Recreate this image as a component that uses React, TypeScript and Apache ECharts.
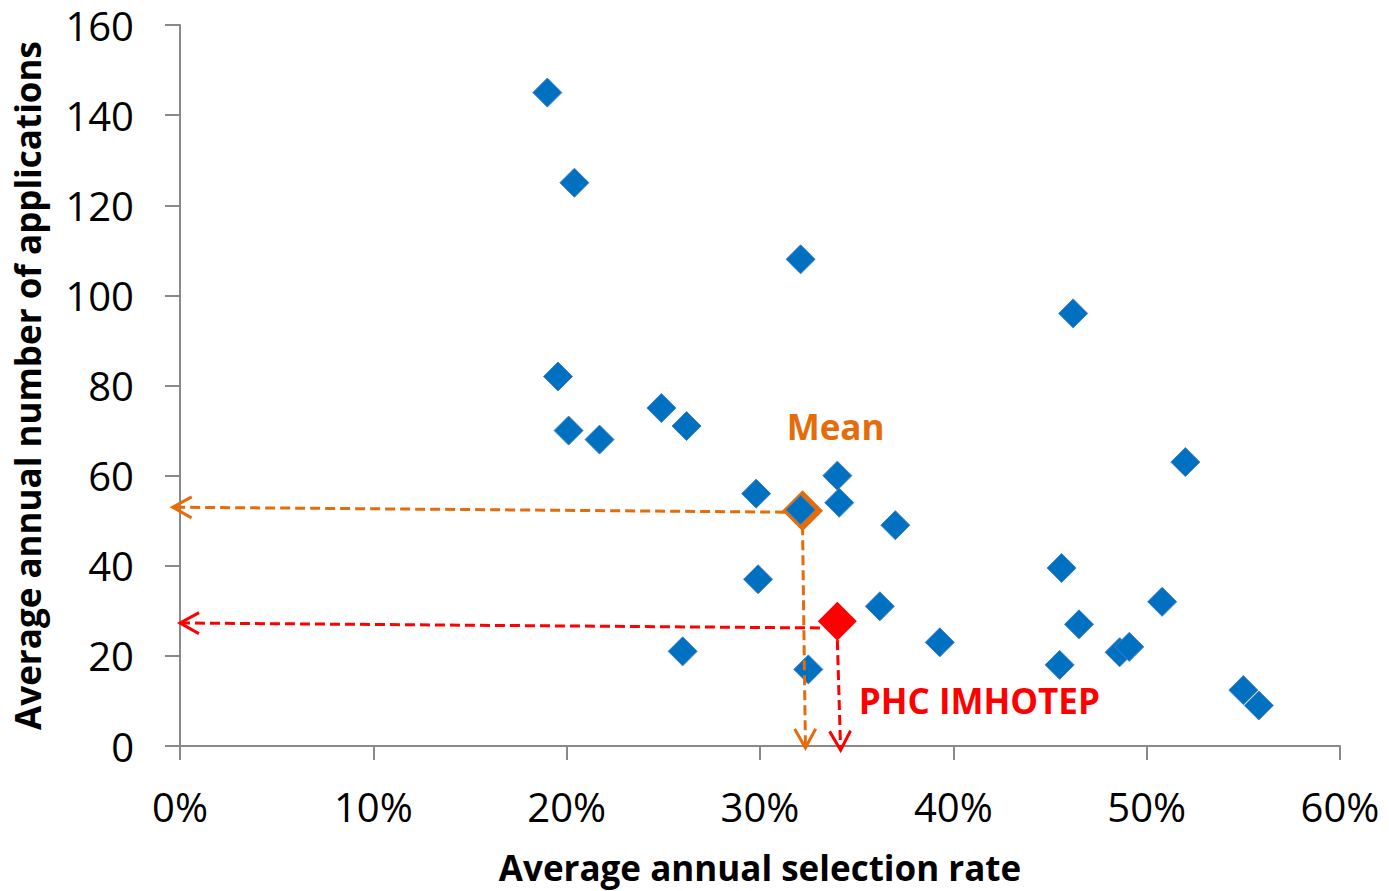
import React, { useEffect, useRef } from "react";
import * as echarts from "echarts";

// Average annual selection rate (%) and average annual number of applications
const selectionRate = [19.0, 20.4, 32.1, 46.2, 19.55, 20.1, 21.7, 24.9, 26.2, 34.0, 52.0, 29.8, 34.1, 32.1, 37.0, 45.6, 29.9, 36.2, 50.8, 46.5, 39.3, 26.0, 32.5, 45.5, 48.6, 49.1, 55.0, 55.8];
const applications = [145, 125, 108, 96, 82, 70, 68, 75, 71, 60, 63, 56, 54, 52.4, 49, 39.5, 37, 31, 32, 27, 23, 21, 17, 18, 20.8, 22, 12.4, 9];

const meanPoint = [32.2, 52.2];
const imhotepPoint = [34.0, 27.7];

// arrows: [x1, y1, x2, y2] in data units
const meanArrows = [
  [31.3, 51.9, -0.38, 53.0],
  [32.2, 49.0, 32.35, -0.4],
];
const imhotepArrows = [
  [33.1, 26.2, 0.0, 27.3],
  [34.0, 23.5, 34.17, -0.9],
];

const xTicks = { min: 0, max: 60, interval: 10 };
const yTicks = { min: 0, max: 160, interval: 20 };

const FONT = "'Open Sans', 'Liberation Sans', sans-serif";
const ORANGE = "#E46C0A";
const RED = "#FF0000";
const BLUE = "#0070C0";

function arrowRender(color: string) {
  return (params: any, api: any) => {
    const p1 = api.coord([api.value(0), api.value(1)]);
    const p2 = api.coord([api.value(2), api.value(3)]);
    const dx = p2[0] - p1[0];
    const dy = p2[1] - p1[1];
    const len = Math.sqrt(dx * dx + dy * dy) || 1;
    const ux = dx / len;
    const uy = dy / len;
    const L = 19;
    const W = 10.5;
    const a1 = [p2[0] - ux * L - uy * W, p2[1] - uy * L + ux * W];
    const a2 = [p2[0] - ux * L + uy * W, p2[1] - uy * L - ux * W];
    return {
      type: "group",
      children: [
        {
          type: "line",
          shape: { x1: p1[0], y1: p1[1], x2: p2[0] - ux * 2, y2: p2[1] - uy * 2 },
          style: { stroke: color, lineWidth: 3, lineDash: [10, 5] },
        },
        {
          type: "polyline",
          shape: { points: [a1, p2, a2] },
          style: { stroke: color, lineWidth: 3, fill: "none" },
        },
      ],
    };
  };
}

export default function App() {
  const ref = useRef<HTMLDivElement>(null);
  useEffect(() => {
    document.body.style.margin = "0";
    const chart = echarts.init(ref.current!, undefined, { renderer: "svg" });
    const points = selectionRate.map((x, i) => [x, applications[i]]);
    chart.setOption({
      animation: false,
      backgroundColor: "#ffffff",
      grid: { left: 180, right: 49, top: 25, bottom: 145, containLabel: false, outerBoundsMode: "none" },
      xAxis: {
        type: "value",
        min: xTicks.min,
        max: xTicks.max,
        interval: xTicks.interval,
        name: "Average annual selection rate",
        nameLocation: "middle",
        nameGap: 104,
        nameTextStyle: { fontFamily: FONT, fontSize: 35, fontWeight: "bold", color: "#000", verticalAlign: "top" },
        axisLine: { show: true, lineStyle: { color: "#898989", width: 2 } },
        axisTick: { show: true, length: 14, lineStyle: { color: "#898989", width: 2 } },
        axisLabel: { fontFamily: FONT, fontSize: 40, color: "#000", margin: 40, formatter: "{value}%" },
        splitLine: { show: false },
      },
      yAxis: {
        type: "value",
        min: yTicks.min,
        max: yTicks.max,
        interval: yTicks.interval,
        name: "Average annual number of applications",
        nameLocation: "middle",
        nameGap: 135,
        nameTextStyle: { fontFamily: FONT, fontSize: 35, fontWeight: "bold", color: "#000" },
        axisLine: { show: true, lineStyle: { color: "#898989", width: 2 } },
        axisTick: { show: true, length: 15, lineStyle: { color: "#898989", width: 2 } },
        axisLabel: { fontFamily: FONT, fontSize: 40, lineHeight: 40, color: "#000", margin: 46 },
        splitLine: { show: false },
      },
      series: [
        {
          type: "scatter",
          symbol: "diamond",
          symbolSize: 41,
          data: [meanPoint],
          itemStyle: { color: ORANGE, opacity: 1 },
          label: {
            show: true,
            formatter: "Mean",
            position: "inside",
            offset: [33, -84],
            fontFamily: FONT,
            fontSize: 35,
            fontWeight: "bold",
            color: ORANGE,
          },
          z: 2,
        },
        {
          type: "scatter",
          symbol: "diamond",
          symbolSize: 29,
          data: points,
          itemStyle: { color: BLUE, borderColor: "#3f7fc6", borderWidth: 1, opacity: 1 },
          z: 3,
        },
        {
          type: "scatter",
          symbol: "diamond",
          symbolSize: 39,
          data: [imhotepPoint],
          itemStyle: { color: RED, opacity: 1 },
          label: {
            show: true,
            formatter: "PHC IMHOTEP",
            position: "inside",
            offset: [142, 79],
            fontFamily: FONT,
            fontSize: 35,
            fontWeight: "bold",
            color: RED,
          },
          z: 3,
        },
        {
          type: "custom",
          renderItem: arrowRender(ORANGE),
          data: meanArrows,
          encode: { x: [0, 2], y: [1, 3] },
          clip: false,
          z: 5,
          silent: true,
        },
        {
          type: "custom",
          renderItem: arrowRender(RED),
          data: imhotepArrows,
          encode: { x: [0, 2], y: [1, 3] },
          clip: false,
          z: 5,
          silent: true,
        },
      ],
    });
    return () => chart.dispose();
  }, []);
  return <div ref={ref} style={{ width: 1389, height: 891 }} />;
}
